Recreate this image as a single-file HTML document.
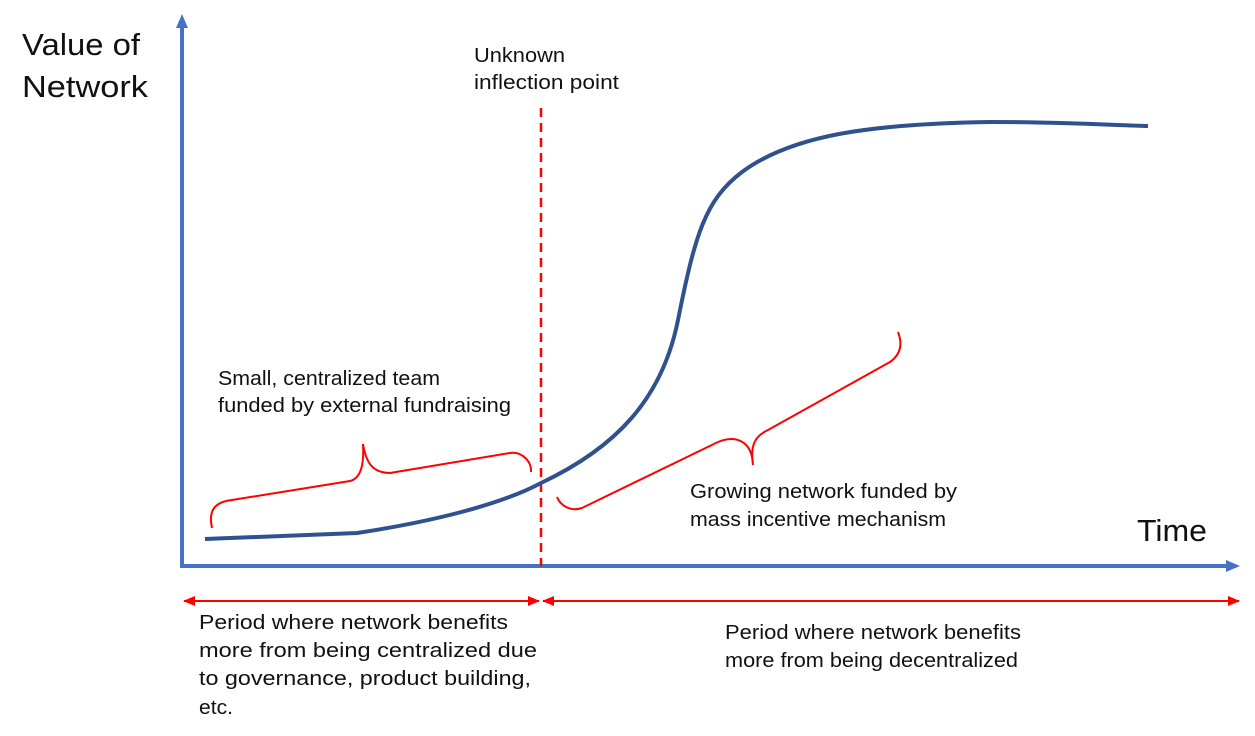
<!DOCTYPE html>
<html><head><meta charset="utf-8"><style>
html,body{margin:0;padding:0;background:#fff;}
svg{display:block;}
text{font-family:"Liberation Sans",sans-serif;fill:#111;}
</style></head><body>
<svg width="1255" height="736" viewBox="0 0 1255 736">
<defs>
<marker id="ar" markerWidth="12" markerHeight="12" refX="11" refY="6" orient="auto-start-reverse" markerUnits="userSpaceOnUse"><path d="M0,1 L12,6 L0,11 Z" fill="#f00"/></marker>
</defs>
<path d="M182,566 L182,22" stroke="#4472C4" stroke-width="4" fill="none"/>
<path d="M176,28 L182,14 L188,28 Z" fill="#4472C4"/>
<path d="M180,566 L1230,566" stroke="#4472C4" stroke-width="4" fill="none"/>
<path d="M1226,560 L1240,566 L1226,572 Z" fill="#4472C4"/>
<path d="M541,108 L541,566" stroke="#f00" stroke-width="2.5" stroke-dasharray="9,6" fill="none"/>
<path d="M205,539 L357,533 C430,522 500,505 541,483 C615,448 662,400 678,320 C695,235 705,200 742,172 C792,135 870,124 990,122 C1060,122 1110,125 1148,126" stroke="#2F528F" stroke-width="4" fill="none"/>
<path d="M212,528 C208,510 215,502 232,500 L350,481 C362,478 364,462 363,444 C366,462 372,473 390,473 L510,453 C522,451 532,462 531,472" stroke="#f00" stroke-width="2" fill="none"/>
<path d="M557,497 C560,505 570,512 582,508 L718,442 C735,435 752,440 753,465 C750,445 755,436 768,430 L890,362 C900,355 903,345 898,332" stroke="#f00" stroke-width="2" fill="none"/>
<path d="M184,601 L539,601" stroke="#f00" stroke-width="2" fill="none" marker-start="url(#ar)" marker-end="url(#ar)"/>
<path d="M543,601 L1239,601" stroke="#f00" stroke-width="2" fill="none" marker-start="url(#ar)" marker-end="url(#ar)"/>
<text x="22" y="55" font-size="31" textLength="118" lengthAdjust="spacingAndGlyphs">Value of</text>
<text x="22" y="97" font-size="31" textLength="126" lengthAdjust="spacingAndGlyphs">Network</text>
<text x="1137" y="541" font-size="31" textLength="70" lengthAdjust="spacingAndGlyphs">Time</text>
<text x="474" y="62" font-size="20" textLength="91" lengthAdjust="spacingAndGlyphs">Unknown</text>
<text x="474" y="89" font-size="20" textLength="145" lengthAdjust="spacingAndGlyphs">inflection point</text>
<text x="218" y="385" font-size="20" textLength="222" lengthAdjust="spacingAndGlyphs">Small, centralized team</text>
<text x="218" y="412" font-size="20" textLength="293" lengthAdjust="spacingAndGlyphs">funded by external fundraising</text>
<text x="690" y="498" font-size="20" textLength="267" lengthAdjust="spacingAndGlyphs">Growing network funded by</text>
<text x="690" y="526" font-size="20" textLength="256" lengthAdjust="spacingAndGlyphs">mass incentive mechanism</text>
<text x="199" y="629" font-size="20" textLength="309" lengthAdjust="spacingAndGlyphs">Period where network benefits</text>
<text x="199" y="657" font-size="20" textLength="338" lengthAdjust="spacingAndGlyphs">more from being centralized due</text>
<text x="199" y="685" font-size="20" textLength="332" lengthAdjust="spacingAndGlyphs">to governance, product building,</text>
<text x="199" y="714" font-size="20" textLength="34" lengthAdjust="spacingAndGlyphs">etc.</text>
<text x="725" y="639" font-size="20" textLength="296" lengthAdjust="spacingAndGlyphs">Period where network benefits</text>
<text x="725" y="667" font-size="20" textLength="293" lengthAdjust="spacingAndGlyphs">more from being decentralized</text>
</svg>
</body></html>
